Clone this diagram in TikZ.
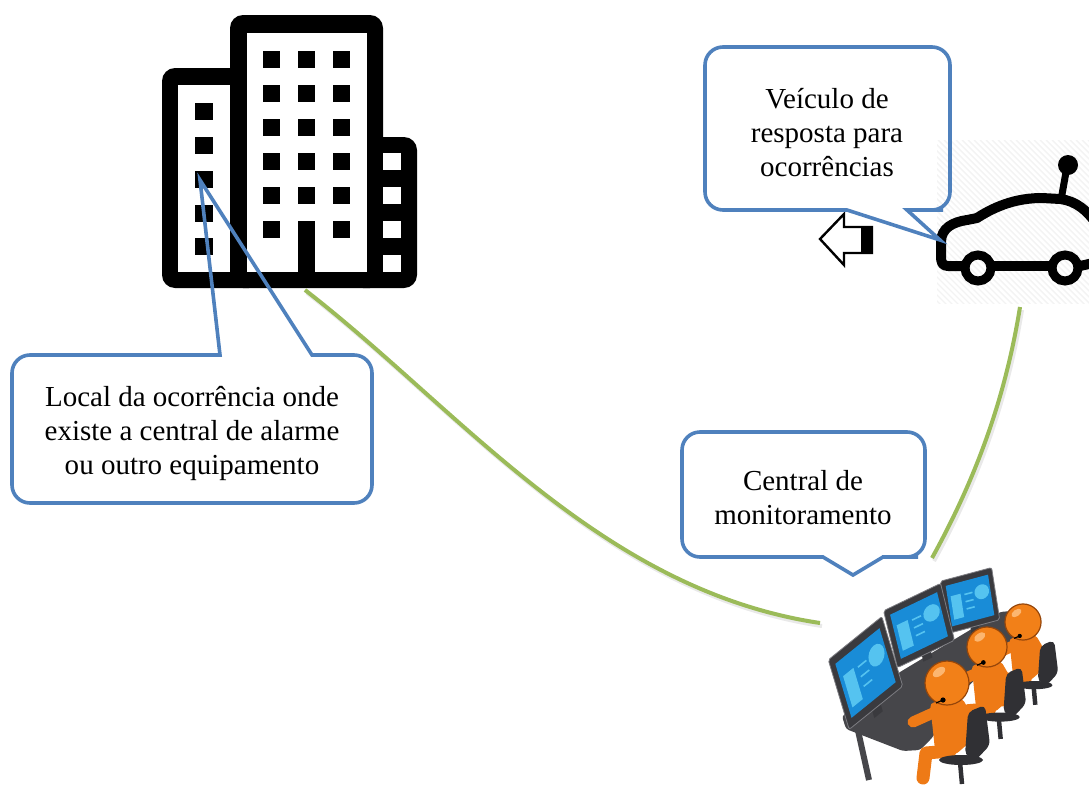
\documentclass[tikz,border=0pt]{standalone}
\usepackage{fontspec}
\setmainfont{Liberation Serif}
\definecolor{calloutblue}{RGB}{79,129,189}
\definecolor{linkgreen}{RGB}{155,187,89}
\definecolor{deskgray}{RGB}{70,70,74}
\definecolor{framegray}{RGB}{58,58,62}
\definecolor{frameedge}{RGB}{125,125,130}
\definecolor{screenblue}{RGB}{25,140,215}
\definecolor{screenlight}{RGB}{85,195,240}
\definecolor{bodyorange}{RGB}{238,122,22}
\definecolor{headorange}{RGB}{242,128,24}
\definecolor{headedge}{RGB}{150,70,10}
\definecolor{headlight}{RGB}{252,182,112}
\definecolor{chairgray}{RGB}{48,48,52}
\definecolor{hatchgray}{RGB}{243,243,243}

% one monitor drawn in a unit cell spanned by two canvas vectors
\newcommand\screenunit[3]{%
  \begin{scope}[shift={#1}, x={#2}, y={#3}]
    \fill[framegray] (0.42,1.0) -- (0.6,1.0) -- (0.6,1.2) -- (0.42,1.2) -- cycle;
    \filldraw[fill=framegray, draw=frameedge, line width=0.8pt, rounded corners=2pt]
      (-0.07,-0.08) -- (1.07,-0.08) -- (1.07,1.08) -- (-0.07,1.08) -- cycle;
    \fill[screenblue] (0.03,0.05) -- (0.97,0.05) -- (0.97,0.95) -- (0.03,0.95) -- cycle;
    \fill[screenlight] (0.10,0.30) -- (0.32,0.30) -- (0.32,0.82) -- (0.10,0.82) -- cycle;
    \foreach \t in {0.34,0.50,0.66}
      \draw[screenlight, line width=1.6pt] (0.40,\t) -- (0.58,\t);
    \fill[screenlight] (0.78,0.38) circle[radius=0.16];
  \end{scope}}

\begin{document}
\begin{tikzpicture}[x=1pt, y=-1pt,
  callout/.style={draw=calloutblue, line width=3.6pt},
  label/.style={align=center, font=\fontsize{29}{34}\selectfont, inner sep=0pt},
  link/.style={draw=linkgreen, line width=4pt},
  linkshadow/.style={draw=black!25, line width=4pt, opacity=0.35},
  carline/.style={draw=black, line width=10pt, line cap=round, line join=round},
  hatch/.style={draw=hatchgray, line width=1.4pt},
  operator/.pic={
    % torso, arm and leg
    \fill[bodyorange, rounded corners=4pt] (-17,20) -- (15,15) -- (25,32) -- (23,59) -- (8,72) -- (-12,67) -- cycle;
    \draw[bodyorange, line width=11pt, line cap=round] (-14,30) -- (-34,39);
    \draw[bodyorange, line width=13pt, line cap=round, line join=round] (3,68) -- (-21,70) -- (-24,95);
    % chair
    \fill[chairgray, rounded corners=5pt] (21,29) -- (38,22) -- (43,62) -- (28,78) -- (18,72) -- cycle;
    \fill[chairgray] (14,77) ellipse[x radius=22, y radius=5];
    \draw[chairgray, line width=4.5pt] (13,79) -- (15,101);
    % head with highlight and headset microphone
    \filldraw[fill=headorange, draw=headedge, line width=1.2pt] (0,0) circle[radius=22];
    \fill[headlight, rotate around={35:(-8,-11)}] (-8,-11) ellipse[x radius=7, y radius=4];
    \draw[black, line width=1.2pt] (-4,17) -- (-11,20);
    \fill[black] (-4,17) circle[radius=2.6];
  }]
\useasboundingbox (0,0) rectangle (1089,787);

% ---------- building ----------
\fill[black, rounded corners=13pt] (162,68) rectangle (262,288);
\fill[black, rounded corners=13pt] (230,15) rectangle (383,288);
\fill[black, rounded corners=13pt] (350,137) rectangle (417,288);
\fill[white] (178,85) rectangle (230,272);
\fill[white] (247,33) rectangle (367,272);
\foreach \yy in {153,187,221,255}
  \fill[white] (383,\yy) rectangle (401,\yy+17);
\foreach \yy in {103,137,171,205,238}
  \fill[black] (195,\yy) rectangle (213,\yy+17);
\foreach \xx in {263,298,333}
  \foreach \yy in {51,85,119,153,187}
    \fill[black] (\xx,\yy) rectangle (\xx+17,\yy+17);
\fill[black] (263,221) rectangle (280,238);
\fill[black] (333,221) rectangle (350,238);
\fill[black] (298,221) rectangle (315,272);
\coordinate (window) at (200,180);
\coordinate (bldgbase) at (305,290);

% ---------- response vehicle ----------
\begin{scope}
  \clip (937,140) rectangle (1089,303);
  \foreach \k in {770,776,...,1090}
    \draw[hatch] (\k,140) -- ++(170,170);
\end{scope}
\begin{scope}
  \clip (900,100) rectangle (1089,320);
  \draw[carline] (963,266) -- (948,266) .. controls (942,266) and (941,262) .. (941,256)
    -- (941,242) .. controls (941,228) and (953,222) .. (967,220) -- (977,218)
    .. controls (997,205) and (1018,198) .. (1042,198) -- (1060,199)
    .. controls (1076,201) and (1087,210) .. (1098,226);
  \draw[carline] (993,266) -- (1050,266);
  \draw[carline] (1080,266) -- (1098,262);
  \draw[black, line width=9pt] (978,268) circle[radius=13];
  \draw[black, line width=9pt] (1065,268) circle[radius=13];
  \draw[black, line width=7pt] (1061,200) -- (1066,172);
  \fill[black] (1068,165) circle[radius=10];
\end{scope}
\coordinate (carbase) at (1020,307);

% small outlined arrow beside the vehicle
\filldraw[fill=white, draw=black, line width=2.4pt, line join=miter]
  (820,239) -- (844,214) -- (844,227) -- (872,227) -- (872,253) -- (844,253) -- (844,265) -- cycle;
\fill[black] (861,227) rectangle (873,253);

% ---------- links to the monitoring centre ----------
\coordinate (deskedge) at (820,623);
\coordinate (centretop) at (932,558);
\draw[linkshadow, transform canvas={shift={(2pt,-3pt)}}]
  (bldgbase) .. controls (460,410) and (600,590) .. (deskedge);
\draw[link] (bldgbase) .. controls (460,410) and (600,590) .. (deskedge);
\draw[linkshadow, transform canvas={shift={(2pt,-3pt)}}]
  (carbase) .. controls (1005,400) and (975,480) .. (centretop);
\draw[link] (carbase) .. controls (1005,400) and (975,480) .. (centretop);

% ---------- monitoring centre ----------
\draw[deskgray, line width=6pt] (857,726) -- (869,780);
\fill[deskgray, rounded corners=3pt] (842,716) -- (900,672) -- (1000,612) -- (1022,610)
  -- (1026,627) -- (992,662) -- (960,695) -- (932,738) -- (920,750) -- (903,751)
  -- (846,729) -- cycle;
\screenunit{(944,584)}{(45pt,12pt)}{(7pt,-45pt)}
\screenunit{(888,613)}{(50pt,24pt)}{(12pt,-49pt)}
\screenunit{(833,662)}{(47pt,38pt)}{(18pt,-60pt)}
\pic[scale=0.82] at (1023,622) {operator};
\pic[scale=0.91] at (987,647) {operator};
\pic at (947,683) {operator};

% ---------- callouts ----------
\draw[callout] (window) -- (312,355) -- (330,355) [rounded corners=18pt]
  -- (372,355) -- (372,503) -- (12,503) -- (12,355) -- (200,355) [sharp corners]
  -- (220,355) -- cycle;
\node[label] (local) at (192,433)
  {Local da ocorrência onde\\existe a central de alarme\\ou outro equipamento};

\draw[callout] (940,240) -- (847,210) -- (830,210) [rounded corners=18pt]
  -- (705,210) -- (705,47) -- (950,47) -- (950,210) -- (925,210) [sharp corners]
  -- (907,210) -- cycle;
\node[label] (veiculo) at (827,133)
  {Veículo de\\resposta para\\ocorrências};

\draw[callout] (853,575) -- (823,557) -- (805,557) [rounded corners=18pt]
  -- (682,557) -- (682,432) -- (925,432) -- (925,557) -- (900,557) [sharp corners]
  -- (883,557) -- cycle;
\node[label] (central) at (803,498)
  {Central de\\monitoramento};
\end{tikzpicture}
\end{document}
